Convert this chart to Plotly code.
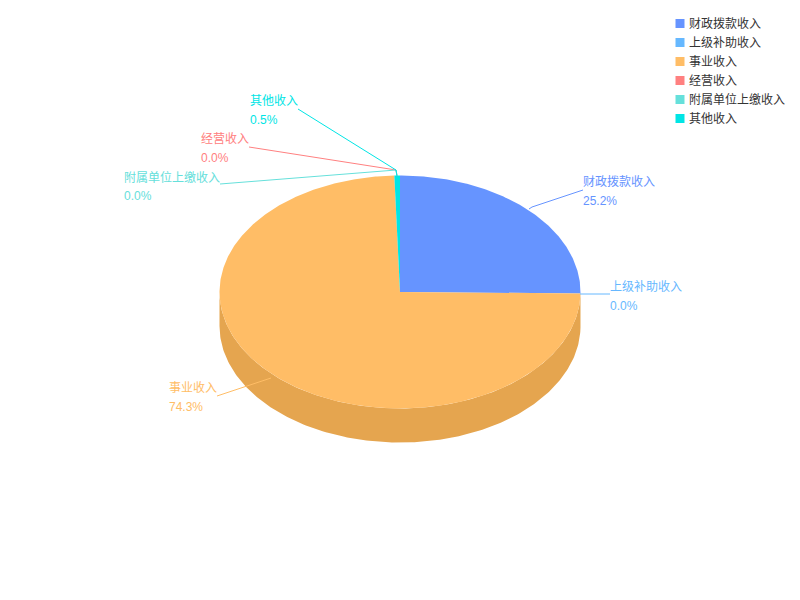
import numpy as np
import plotly.graph_objects as go

# Data
categories = ["财政拨款收入", "上级补助收入", "事业收入", "经营收入", "附属单位上缴收入", "其他收入"]
shares = [25.2, 0.0, 74.3, 0.0, 0.0, 0.5]
share_labels = ["25.2%", "0.0%", "74.3%", "0.0%", "0.0%", "0.5%"]

colors = ["#6694ff", "#66b8ff", "#ffbd66", "#ff8080", "#66e0db", "#00e5e5"]
side_colors = ["#5c85e5", "#5ca5e5", "#e5a54f", "#e57373", "#5cc9c5", "#00cece"]

# Ellipse geometry in page pixels
CX, CY = 400, 292
RX, RY = 180.5, 116.5
DEPTH = 34
FONT = "Liberation Sans, Noto Sans CJK SC, sans-serif"

# label text position and leader line (page pixels), same order as categories
label_xy = [(583, 182), (610, 287), (169, 388), (201, 139), (124, 177), (250, 101)]
leader_x = [[529, 532, 583], [580, 610], [271, 217], [397, 396, 249], [397, 396, 220], [397, 396, 298]]
leader_y = [[209, 207, 190], [294, 294], [378, 396], [176, 170, 147], [176, 170, 184], [176, 170, 109]]

# hand drawn legend, the built-in one keeps too wide a gap between marker and text
LEGEND_X, LEGEND_Y, LEGEND_STEP = 680, 23.5, 19


def ellipse(deg, dy=0):
    t = np.radians(deg)
    return CX + RX * np.sin(t), CY + dy - RY * np.cos(t)


fig = go.Figure()

# slice angles, clockwise from the top
ends = np.cumsum(shares) / sum(shares) * 360
starts = np.concatenate([[0], ends[:-1]])

# outer wall first, only the part that faces the viewer
for a, b, c in zip(starts, ends, side_colors):
    lo, hi = max(a, 90), min(b, 270)
    if hi <= lo:
        continue
    deg = np.linspace(lo, hi, 200)
    x1, y1 = ellipse(deg)
    x2, y2 = ellipse(deg[::-1], DEPTH)
    fig.add_trace(go.Scatter(x=np.r_[x1, x2], y=np.r_[y1, y2], mode="lines", fill="toself",
                             fillcolor=c, line=dict(width=0), hoverinfo="skip"))

# top face
for name, label, a, b, c in zip(categories, share_labels, starts, ends, colors):
    if b <= a:
        continue
    deg = np.linspace(a, b, max(int(b - a) * 2, 8))
    x, y = ellipse(deg)
    fig.add_trace(go.Scatter(x=np.r_[CX, x, CX], y=np.r_[CY, y, CY], mode="lines", fill="toself",
                             fillcolor=c, line=dict(width=0), name=name, text=label,
                             hoveron="fills", hoverinfo="name+text"))

# leader lines and labels
for name, label, c, (lx, ly), xs, ys in zip(categories, share_labels, colors, label_xy, leader_x, leader_y):
    fig.add_trace(go.Scatter(x=xs, y=ys, mode="lines", line=dict(color=c, width=1), hoverinfo="skip"))
    fig.add_annotation(x=lx, y=ly, text=name, showarrow=False, xanchor="left", yanchor="middle",
                       font=dict(color=c, size=12, family=FONT), xshift=-2)
    fig.add_annotation(x=lx, y=ly + 19, text=label, showarrow=False, xanchor="left", yanchor="middle",
                       font=dict(color=c, size=12, family=FONT), xshift=-2)

# legend entries
legend_y = [LEGEND_Y + i * LEGEND_STEP for i in range(len(categories))]
fig.add_trace(go.Scatter(x=[LEGEND_X] * len(categories), y=legend_y, mode="markers", hoverinfo="skip",
                         marker=dict(symbol="square", size=9, color=colors)))
for name, y in zip(categories, legend_y):
    fig.add_annotation(x=LEGEND_X + 9, y=y, text=name, showarrow=False, xanchor="left", yanchor="middle",
                       font=dict(color="#333333", size=12, family=FONT), xshift=-2)

fig.update_layout(
    width=800, height=600, margin=dict(l=0, r=0, t=0, b=0),
    showlegend=False,
    paper_bgcolor="white", plot_bgcolor="white",
    font=dict(family=FONT, size=12, color="#333333"),
    xaxis=dict(range=[0, 800], visible=False, fixedrange=True),
    yaxis=dict(range=[600, 0], visible=False, fixedrange=True),
)

fig.write_html("out.html", config=dict(displayModeBar=False),
               post_script="document.body.style.margin='0';")
